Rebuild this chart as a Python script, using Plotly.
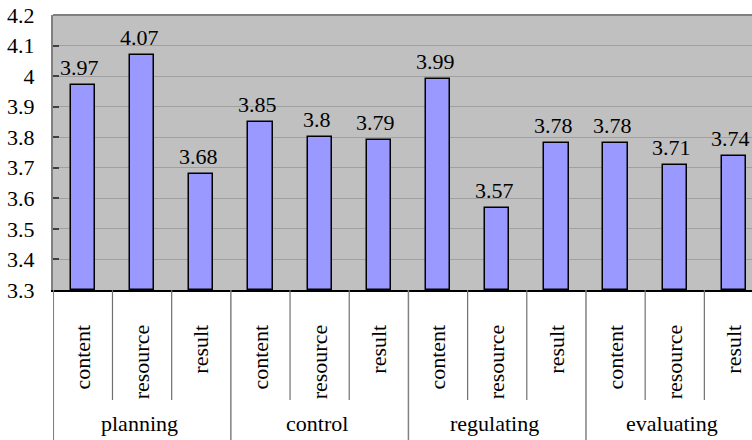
import plotly.graph_objects as go

# Survey means per strategy dimension and aspect
groups = ["planning", "control", "regulating", "evaluating"]
aspects = ["content", "resource", "result"]
values = [3.97, 4.07, 3.68,
          3.85, 3.80, 3.79,
          3.99, 3.57, 3.78,
          3.78, 3.71, 3.74]

y_ticks = [3.3, 3.4, 3.5, 3.6, 3.7, 3.8, 3.9, 4.0, 4.1, 4.2]

n_groups = len(groups)
n_aspects = len(aspects)
xs = list(range(n_groups * n_aspects))
tick_text = aspects * n_groups

FONT = "Liberation Serif"
FS = 22

fig = go.Figure()
fig.add_trace(go.Bar(
    x=xs,
    y=[v - 3.3 for v in values],
    base=3.3,
    width=0.41,
    marker=dict(color="#9999FF", line=dict(color="black", width=1.5)),
    hoverinfo="skip",
))

# value labels above each bar
for x, v in zip(xs, values):
    fig.add_annotation(
        x=x, y=v, text=f"{v:g}", showarrow=False,
        yanchor="bottom", yshift=3, xshift=-3,
        font=dict(family=FONT, size=FS, color="black"),
    )

# plot area spans 290-15 px; the category band below it is 150 px tall
plot_h = 275.0
band_bottom = -150.0 / plot_h
inner_bottom = -110.0 / plot_h

# dividers between aspects (short) and between groups (full height)
for k in range(n_groups * n_aspects):
    b = k - 0.5
    is_group_edge = (k % n_aspects == 0)
    fig.add_shape(
        type="line", xref="x", yref="paper",
        x0=b, x1=b, y0=0, y1=band_bottom if is_group_edge else inner_bottom,
        line=dict(color="#808080" if is_group_edge else "#707070",
                  width=1.5 if is_group_edge else 1.2),
        layer="above",
    )

# group names
for g, name in enumerate(groups):
    fig.add_annotation(
        x=g * n_aspects + (n_aspects - 1) / 2, y=-133.0 / plot_h,
        xref="x", yref="paper", text=name, showarrow=False,
        yanchor="middle", xshift=-3,
        font=dict(family=FONT, size=FS, color="black"),
    )

# top border of the plot area
fig.add_shape(type="line", xref="paper", yref="paper", x0=0, x1=1, y0=1, y1=1,
              line=dict(color="#808080", width=2), layer="above")

fig.update_layout(
    width=752, height=440,
    margin=dict(l=53, r=0, t=15, b=150),
    paper_bgcolor="white",
    plot_bgcolor="#C0C0C0",
    showlegend=False,
    font=dict(family=FONT, size=FS, color="black"),
    bargap=0,
)
fig.update_xaxes(
    range=[-0.505, 11.305],
    tickmode="array", tickvals=xs, ticktext=tick_text,
    tickangle=-90, ticks="", ticklabelstandoff=24,
    showgrid=False, zeroline=False,
    showline=True, linecolor="black", linewidth=2,
    tickfont=dict(family=FONT, size=FS, color="black"),
)
fig.update_yaxes(
    range=[3.3, 4.2],
    tickmode="array", tickvals=y_ticks,
    ticktext=[f"{t:g}" for t in y_ticks],
    ticks="inside", ticklen=6, tickcolor="#404040", tickwidth=1.5,
    showgrid=True, gridcolor="#A0A0A0", gridwidth=1.2,
    zeroline=False,
    showline=True, linecolor="#808080", linewidth=2,
    ticklabelstandoff=12,
    tickfont=dict(family=FONT, size=FS, color="black"),
)

fig.write_html("out.html")
